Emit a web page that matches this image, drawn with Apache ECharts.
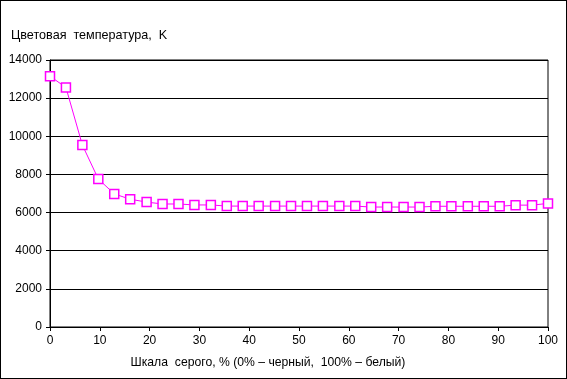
<!DOCTYPE html>
<html><head><meta charset="utf-8">
<script src="https://cdn.jsdelivr.net/npm/echarts@6/dist/echarts.min.js"></script>
<style>
html,body{margin:0;padding:0;background:#fff;}
#c{width:567px;height:379px;box-sizing:border-box;border:1px solid #000;}
</style></head><body>
<div id="c"></div>
<script>
var grayPercent = [0,3.2,6.5,9.7,12.9,16.1,19.4,22.6,25.8,29.0,32.3,35.5,38.7,41.9,45.2,48.4,51.6,54.8,58.1,61.3,64.5,67.7,71.0,74.2,77.4,80.6,83.9,87.1,90.3,93.5,96.8,100];
var colorTemp = [13150,12560,9540,7760,6980,6700,6550,6450,6450,6400,6400,6340,6340,6340,6340,6340,6340,6340,6340,6340,6290,6290,6290,6290,6330,6330,6330,6330,6330,6390,6390,6480];
var yTitle = 'Цветовая  температура,  K';
var xTitle = 'Шкала  серого, % (0% – черный,  100% – белый)';

var chart = echarts.init(document.getElementById('c'), null, {renderer:'canvas'});
var font = 'Liberation Sans, Arial, sans-serif';
chart.setOption({
  animation:false,
  title:{text:yTitle,left:5,top:23,textStyle:{fontFamily:font,fontSize:12.6,fontWeight:'normal',color:'#000'}},
  grid:{left:49,right:18,top:59,bottom:51,show:true,borderColor:'#000',borderWidth:1},
  xAxis:{type:'value',min:0,max:100,interval:10,
    name:xTitle,nameLocation:'middle',nameGap:30,
    nameTextStyle:{fontFamily:font,fontSize:12.2,color:'#000',padding:[0,62,0,0]},
    axisLine:{lineStyle:{color:'#000'}},
    axisTick:{show:true,length:4,lineStyle:{color:'#000'}},
    axisLabel:{fontFamily:font,fontSize:12,color:'#000',margin:8},
    splitLine:{show:false}},
  yAxis:{type:'value',min:0,max:14000,interval:2000,
    axisLine:{show:true,lineStyle:{color:'#000'}},
    axisTick:{show:true,length:4,lineStyle:{color:'#000'}},
    axisLabel:{fontFamily:font,fontSize:12,color:'#000',margin:8,formatter:function(v){return String(v);}},
    splitLine:{show:true,lineStyle:{color:'#000',width:1}}},
  series:[{type:'line',data:grayPercent.map(function(x,i){return [x,colorTemp[i]];}),
    symbol:'rect',symbolSize:9,showAllSymbol:true,
    lineStyle:{color:'#ff00ff',width:1},
    itemStyle:{color:'#fff',borderColor:'#ff00ff',borderWidth:1.5}}]
});
</script></body></html>
